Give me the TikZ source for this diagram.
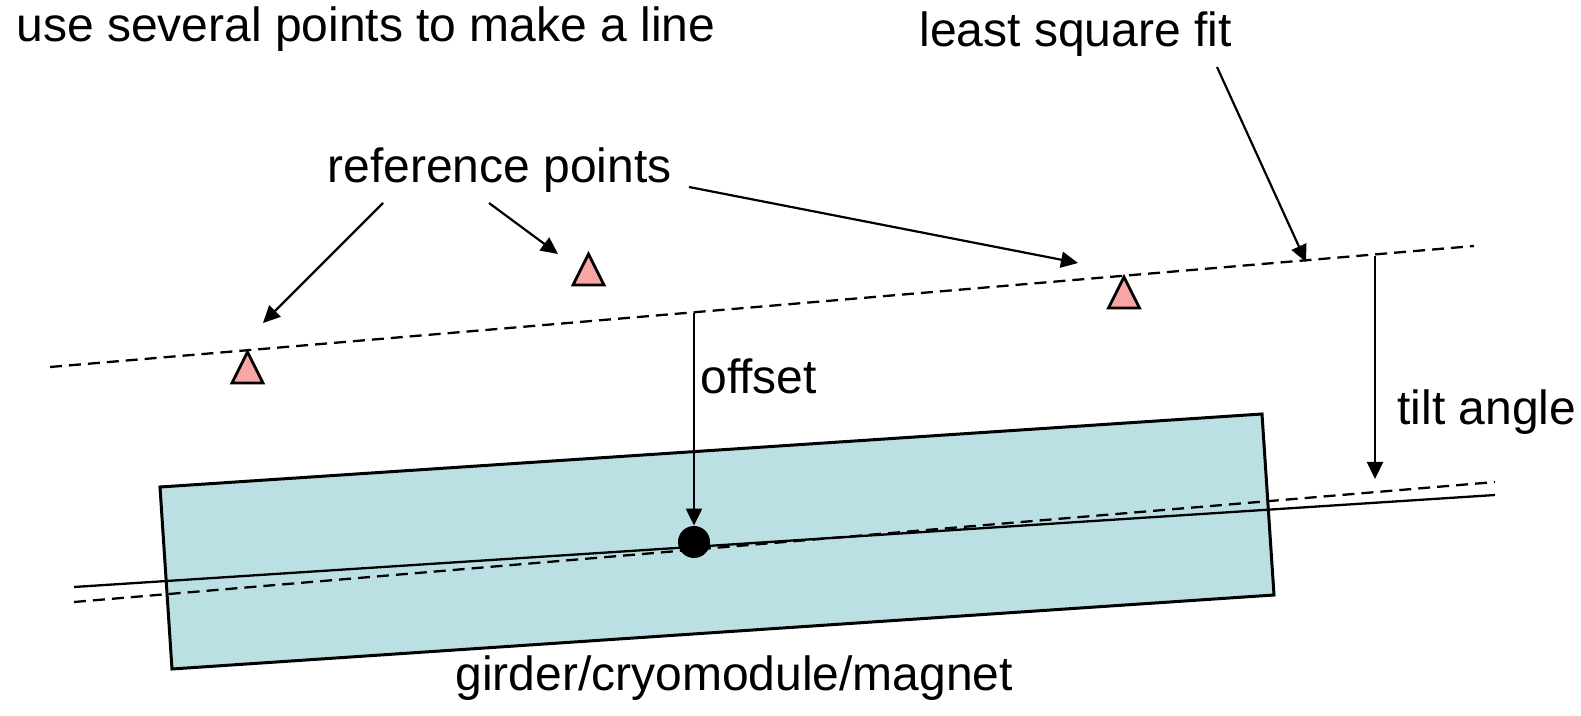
\documentclass[tikz,border=0pt]{standalone}
\usepackage{fontspec}
\setmainfont{Liberation Sans}
\usetikzlibrary{arrows.meta}

\definecolor{girderblue}{RGB}{187,224,227}
\definecolor{refpink}{RGB}{250,165,165}

\tikzset{
  label text/.style={anchor=base west, inner sep=0pt, font=\fontsize{24}{28}\selectfont},
  pointer/.style={line width=1.1pt, -{Triangle[length=8.5pt,width=8pt]}},
  fitline/.style={line width=1.15pt, dash pattern=on 6pt off 3.5pt},
  refmark/.style={line width=1.4pt, fill=refpink, line join=miter},
}

\newcommand{\refmark}[1]{\draw[refmark] (#1) ++(-15.5,0) -- ++(15.5,-31) -- ++(15.5,31) -- cycle;}

\begin{document}
\begin{tikzpicture}[x=0.5pt, y=-0.5pt]
    \useasboundingbox (0,0) rectangle (1581,716);

    % Girder
    \draw[line width=1.5pt, fill=girderblue] (160,487) -- (1262,414) -- (1274,595) -- (172,669) -- cycle;

    % Lines
    \draw[fitline] (50,367) -- (1474,246);
    \draw[fitline] (74,602) -- (1495,482);
    \draw[line width=1.15pt] (74,587) -- (1495,495);

    % Centre
    \node[circle, fill=black, inner sep=0pt, minimum size=16pt] (centre) at (694,542) {};

    % Reference points
    \coordinate (rp1) at (247.5,383);
    \coordinate (rp2) at (588.5,285);
    \coordinate (rp3) at (1124,308);
    \refmark{rp1}
    \refmark{rp2}
    \refmark{rp3}

    % Texts
    \node[label text] (title) at (16,42) {use several points to make a line};
    \node[label text] (lsq) at (919,47) {least square fit};
    \node[label text] (refs) at (327,183) {reference points};
    \node[label text] (offset) at (700,394) {offset};
    \node[label text] (tilt) at (1397,425) {tilt angle};
    \node[label text] (girder) at (455,690) {girder/cryomodule/magnet};

    % Arrows
    \coordinate (r1s) at (383,203);  \coordinate (r1e) at (263,323);
    \coordinate (r2s) at (489,203);  \coordinate (r2e) at (558,254);
    \coordinate (r3s) at (689,187);  \coordinate (r3e) at (1078,263);
    \coordinate (lsqs) at (1217,67); \coordinate (lsqe) at (1306,262);
    \coordinate (tilts) at (1375,256); \coordinate (tilte) at (1375,479);
    \coordinate (offs) at (694,313);
    \draw[pointer] (r1s) -- (r1e);
    \draw[pointer] (r2s) -- (r2e);
    \draw[pointer] (r3s) -- (r3e);
    \draw[pointer] (lsqs) -- (lsqe);
    \draw[pointer] (tilts) -- (tilte);
    \draw[pointer] (offs) -- (centre.north);
\end{tikzpicture}
\end{document}
